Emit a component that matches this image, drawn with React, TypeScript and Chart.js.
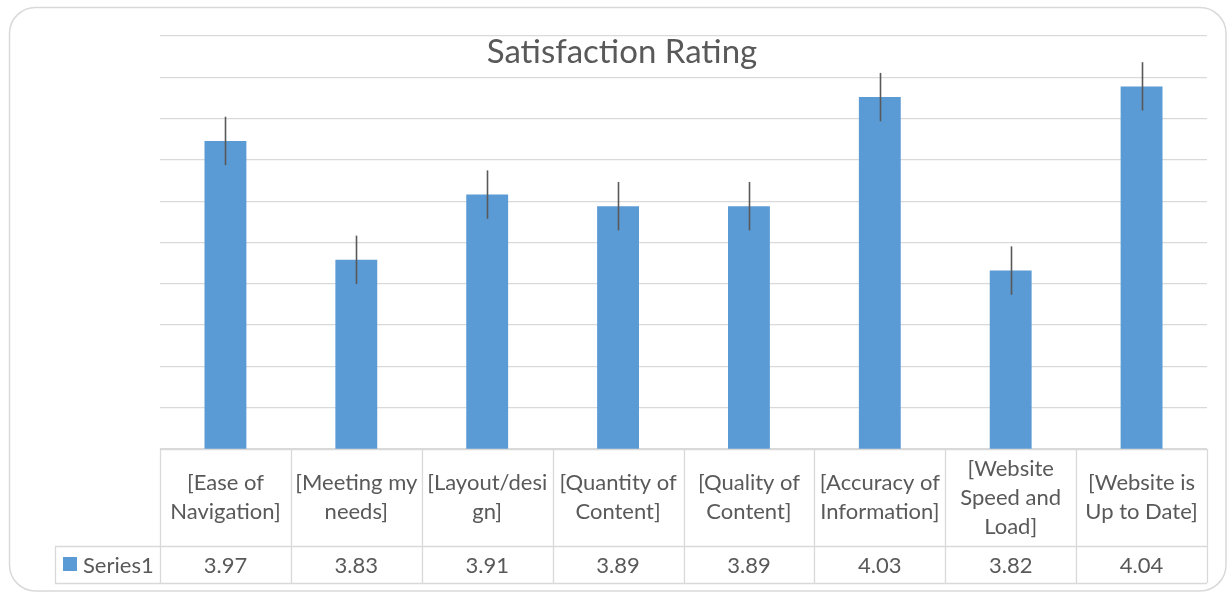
import React, { useEffect, useRef } from "react";
import { Chart, registerables } from "chart.js";

Chart.register(...registerables);

const chartTitle = "Satisfaction Rating";
const seriesName = "Series1";
const categories: string[][] = [
  ["[Ease of", "Navigation]"],
  ["[Meeting my", "needs]"],
  ["[Layout/desi", "gn]"],
  ["[Quantity of", "Content]"],
  ["[Quality of", "Content]"],
  ["[Accuracy of", "Information]"],
  ["[Website", "Speed and", "Load]"],
  ["[Website is", "Up to Date]"],
];
const values = [3.973, 3.829, 3.908, 3.894, 3.894, 4.026, 3.816, 4.039];
const valueLabels = ["3.97", "3.83", "3.91", "3.89", "3.89", "4.03", "3.82", "4.04"];
const errors = [0.0293, 0.0293, 0.0293, 0.0293, 0.0293, 0.0293, 0.0293, 0.0293];
const yMin = 3.6;
const yMax = 4.1;
const yStep = 0.05;

const W = 1228;
const H = 592;
const FONT = "Lato, 'Open Sans', sans-serif";
const TEXT = "#595959";
const LINE = "#d9d9d9";
const BAR = "#5B9BD5";

const tablePlugin = {
  id: "excelTable",
  beforeDraw(chart: any) {
    const ctx = chart.ctx;
    ctx.save();
    ctx.fillStyle = "#ffffff";
    ctx.fillRect(0, 0, W, H);
    const x0 = 9.5, y0 = 7.5, x1 = 1226, y1 = 591, r = 26;
    ctx.beginPath();
    ctx.moveTo(x0 + r, y0);
    ctx.lineTo(x1 - r, y0);
    ctx.arcTo(x1, y0, x1, y0 + r, r);
    ctx.lineTo(x1, y1 - r);
    ctx.arcTo(x1, y1, x1 - r, y1, r);
    ctx.lineTo(x0 + r, y1);
    ctx.arcTo(x0, y1, x0, y1 - r, r);
    ctx.lineTo(x0, y0 + r);
    ctx.arcTo(x0, y0, x0 + r, y0, r);
    ctx.closePath();
    ctx.strokeStyle = LINE;
    ctx.lineWidth = 1.5;
    ctx.stroke();
    ctx.restore();
  },
  afterDatasetsDraw(chart: any) {
    const ctx = chart.ctx;
    const xs = chart.scales.x;
    const ys = chart.scales.y;
    ctx.save();
    ctx.strokeStyle = "#595959";
    ctx.lineWidth = 1.6;
    values.forEach((v, i) => {
      const x = Math.round(xs.getPixelForValue(i)) + 0.5;
      const yTop = ys.getPixelForValue(v + errors[i]);
      const yBot = ys.getPixelForValue(v - errors[i]);
      ctx.beginPath();
      ctx.moveTo(x, yTop);
      ctx.lineTo(x, yBot);
      ctx.stroke();
    });
    ctx.restore();
  },
  afterDraw(chart: any) {
    const ctx = chart.ctx;
    const xs = chart.scales.x;
    const area = chart.chartArea;
    const left = area.left;
    const right = area.right;
    const top = area.bottom;
    const mid = 546;
    const bottom = 583;
    const legendLeft = 55;
    const half = (xs.getPixelForValue(1) - xs.getPixelForValue(0)) / 2;

    ctx.save();
    ctx.fillStyle = TEXT;
    ctx.font = `33px ${FONT}`;
    ctx.textAlign = "center";
    ctx.textBaseline = "middle";
    ctx.fillText(chartTitle, 622, 52);

    ctx.strokeStyle = LINE;
    ctx.lineWidth = 1.3;
    ctx.beginPath();
    ctx.moveTo(left, top + 0.5);
    ctx.lineTo(right, top + 0.5);
    ctx.moveTo(legendLeft, mid + 0.5);
    ctx.lineTo(right, mid + 0.5);
    ctx.moveTo(legendLeft, bottom + 0.5);
    ctx.lineTo(right, bottom + 0.5);
    ctx.moveTo(legendLeft + 0.5, mid);
    ctx.lineTo(legendLeft + 0.5, bottom);
    for (let i = 0; i <= categories.length; i++) {
      const x = Math.round(i < categories.length ? xs.getPixelForValue(i) - half : xs.getPixelForValue(i - 1) + half) + 0.5;
      ctx.moveTo(x, top);
      ctx.lineTo(x, bottom);
    }
    ctx.stroke();

    ctx.fillStyle = TEXT;
    ctx.font = `22px ${FONT}`;
    ctx.textAlign = "center";
    ctx.textBaseline = "middle";
    const lh = 29;
    const headerCenter = (top + mid) / 2;
    categories.forEach((lines, i) => {
      const cx = xs.getPixelForValue(i);
      const start = headerCenter - ((lines.length - 1) * lh) / 2;
      lines.forEach((ln, j) => ctx.fillText(ln, cx, start + j * lh));
    });
    const valCenter = (mid + bottom) / 2 + 1;
    valueLabels.forEach((t, i) => {
      ctx.fillText(t, xs.getPixelForValue(i), valCenter);
    });
    ctx.fillStyle = BAR;
    ctx.fillRect(63, 557, 14, 14);
    ctx.fillStyle = TEXT;
    ctx.textAlign = "left";
    ctx.fillText(seriesName, 83, valCenter);
    ctx.restore();
  },
};

export default function App() {
  const ref = useRef<HTMLCanvasElement | null>(null);
  useEffect(() => {
    if (!ref.current) return;
    const chart = new Chart(ref.current, {
      type: "bar",
      data: {
        labels: categories.map((c) => c.join(" ")),
        datasets: [
          {
            label: seriesName,
            data: values,
            backgroundColor: BAR,
            borderWidth: 0,
            barPercentage: 0.32,
            categoryPercentage: 1,
          },
        ],
      },
      options: {
        responsive: false,
        animation: false,
        devicePixelRatio: 1,
        layout: { padding: { left: 160, right: 21, top: 36, bottom: 143 } },
        plugins: {
          legend: { display: false },
          title: { display: false },
          tooltip: { enabled: false },
        },
        scales: {
          x: { display: false },
          y: {
            display: true,
            min: yMin,
            max: yMax,
            ticks: { display: false, stepSize: yStep },
            grid: { color: LINE, lineWidth: 1.3, drawTicks: false },
            border: { display: false },
            afterFit: (s: any) => {
              s.width = 0;
            },
          },
        },
      },
      plugins: [tablePlugin],
    });
    return () => chart.destroy();
  }, []);
  return (
    <div style={{ position: "absolute", left: 0, top: 0, width: W, height: H }}>
      <canvas ref={ref} width={W} height={H} style={{ width: W, height: H, display: "block" }} />
    </div>
  );
}
